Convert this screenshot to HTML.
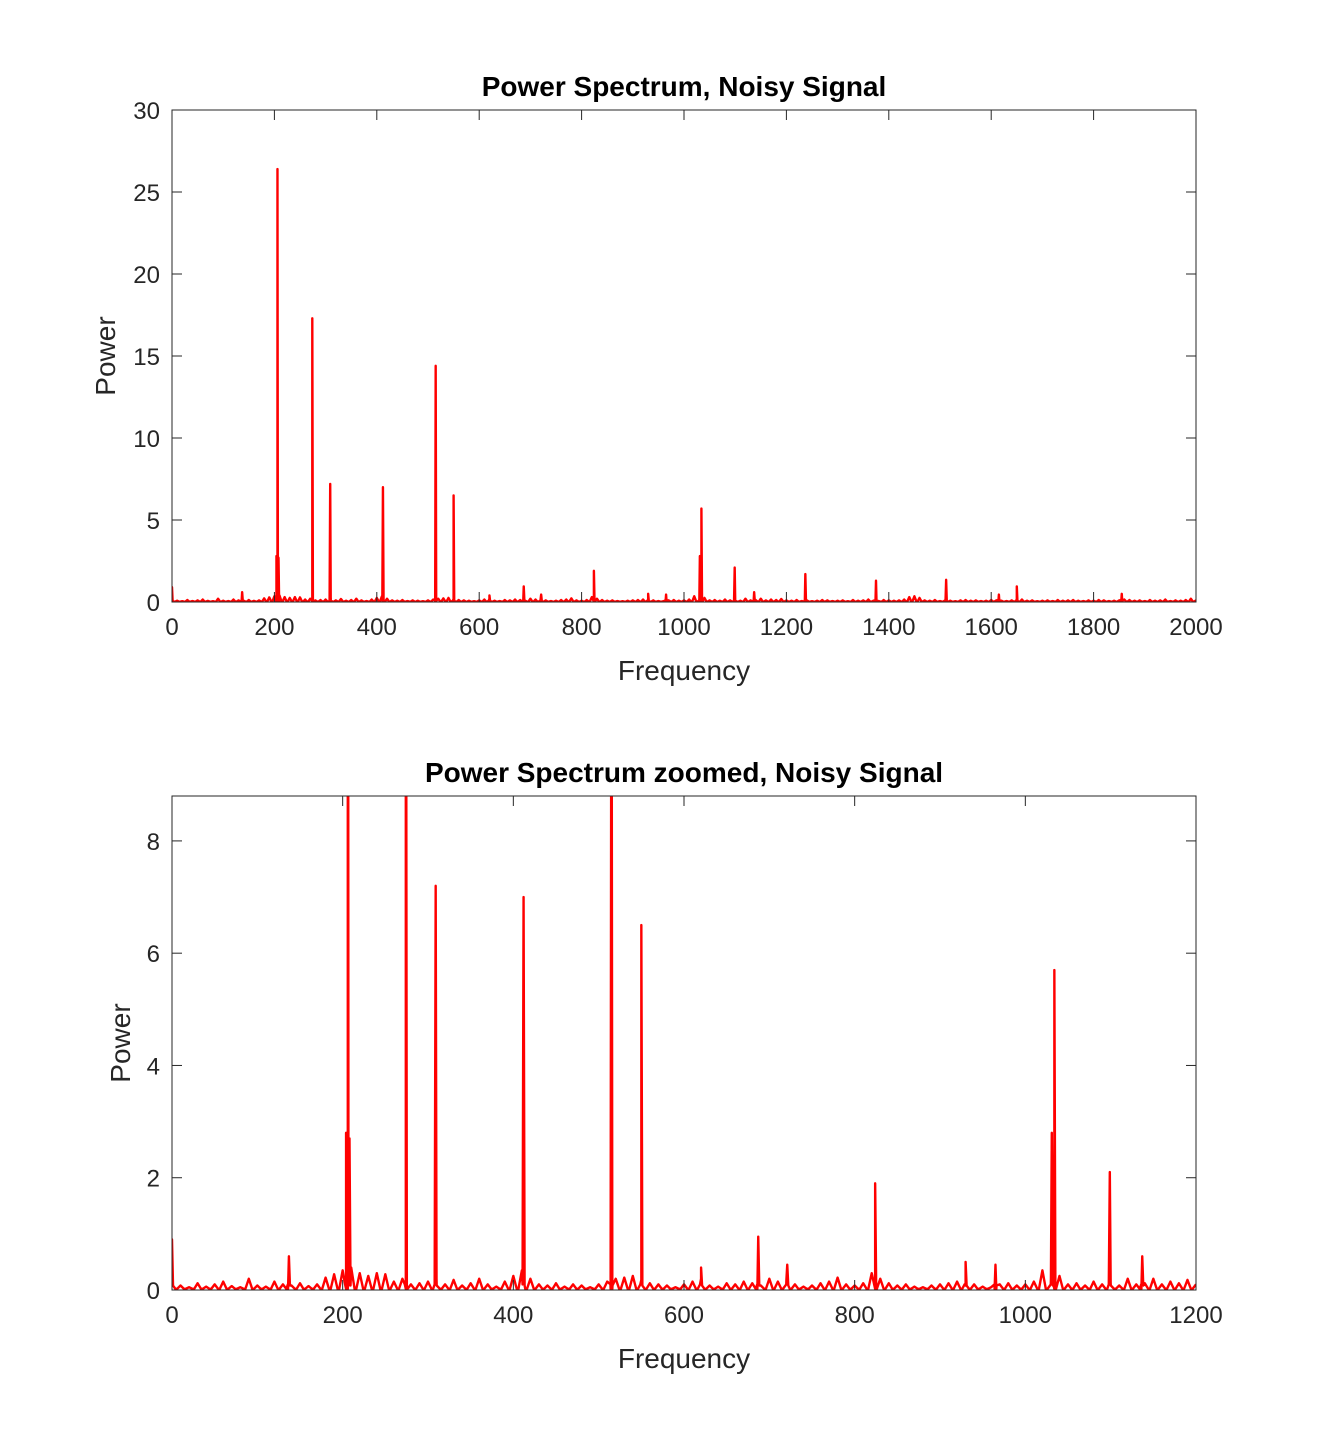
<!DOCTYPE html>
<html><head><meta charset="utf-8"><style>
body{margin:0;background:#fff;}
svg text{font-family:"Liberation Sans",Arial,sans-serif;fill:#262626;}
</style></head><body>
<svg id="fig" width="1323" height="1450" viewBox="0 0 1323 1450" xmlns="http://www.w3.org/2000/svg"></svg>
<script>
// Noise floor samples (every 10 Hz) and their powers
const noiseStep = 10;
const noiseFloor = [0.3,0.08,0.05,0.12,0.06,0.1,0.15,0.07,0.05,0.2,0.08,0.06,0.15,0.1,0.08,0.12,0.07,0.1,0.22,0.28,
0.35,0.4,0.3,0.25,0.3,0.28,0.15,0.2,0.1,0.12,0.15,0.2,0.1,0.18,0.08,0.12,0.2,0.1,0.06,0.15,
0.25,0.35,0.2,0.1,0.08,0.12,0.06,0.1,0.08,0.05,0.1,0.15,0.2,0.22,0.25,0.18,0.12,0.1,0.08,0.05,
0.1,0.15,0.2,0.08,0.06,0.12,0.1,0.15,0.12,0.08,0.2,0.15,0.18,0.1,0.06,0.08,0.12,0.15,0.22,0.1,
0.08,0.12,0.3,0.2,0.12,0.08,0.1,0.06,0.05,0.08,0.1,0.12,0.15,0.08,0.1,0.06,0.05,0.1,0.12,0.08,
0.1,0.15,0.35,0.2,0.25,0.1,0.12,0.08,0.15,0.1,0.12,0.08,0.2,0.1,0.12,0.2,0.1,0.15,0.12,0.18,
0.1,0.08,0.12,0.06,0.1,0.05,0.08,0.12,0.1,0.06,0.08,0.1,0.05,0.12,0.08,0.1,0.15,0.08,0.06,0.12,
0.1,0.08,0.1,0.15,0.3,0.35,0.25,0.1,0.08,0.12,0.06,0.1,0.08,0.05,0.1,0.12,0.08,0.1,0.06,0.08,
0.12,0.1,0.08,0.06,0.1,0.12,0.15,0.08,0.1,0.05,0.08,0.1,0.06,0.12,0.08,0.1,0.12,0.08,0.06,0.1,
0.08,0.12,0.1,0.06,0.08,0.1,0.15,0.12,0.08,0.1,0.06,0.12,0.08,0.1,0.15,0.06,0.1,0.08,0.12,0.2,
0.1,0.08];
const noiseBase = 0.02;
const peakFreqs = [0,137,204,206,208,274,309,412,515,550,620,687,721,824,930,965,1031,1034,1099,1137,1237,1375,1512,1615,1650,1855];
const peakPowers = [0.9,0.6,2.8,26.4,2.7,17.3,7.2,7.0,14.4,6.5,0.4,0.95,0.45,1.9,0.5,0.45,2.8,5.7,2.1,0.6,1.7,1.3,1.35,0.45,0.95,0.5];
const topXTicks = [0,200,400,600,800,1000,1200,1400,1600,1800,2000];
const topYTicks = [0,5,10,15,20,25,30];
const botXTicks = [0,200,400,600,800,1000,1200];
const botYTicks = [0,2,4,6,8];

const NS="http://www.w3.org/2000/svg";
const svg=document.getElementById('fig');
function mk(tag,attrs,parent){const e=document.createElementNS(NS,tag);for(const k in attrs)e.setAttribute(k,attrs[k]);(parent||svg).appendChild(e);return e;}

const pts=[];
noiseFloor.forEach((v,i)=>{const f=i*noiseStep;pts.push([f-4,noiseBase]);pts.push([f,v]);pts.push([f+4,noiseBase]);});
peakFreqs.forEach((f,i)=>{pts.push([f-1.2,0.1]);pts.push([f,peakPowers[i]]);pts.push([f+1.2,0.08]);});
pts.sort((a,b)=>a[0]-b[0]);

function chart(id,box,xmax,ymax,xt,yt,title,ylx){
  const [L,T,R,B]=box;
  const sx=v=>L+(v/xmax)*(R-L), sy=v=>B-(v/ymax)*(B-T);
  const g=mk('g',{});
  
  
  const cp=mk('clipPath',{id:id+'-clip'},g);mk('rect',{x:L,y:T,width:R-L,height:B-T},cp);
  const d=pts.filter(p=>p[0]>=0&&p[0]<=xmax).map((p,i)=>(i?'L':'M')+sx(p[0]).toFixed(2)+','+sy(p[1]).toFixed(2)).join('');
  const line=mk('path',{d:d,fill:'none',stroke:'#ff0000','stroke-width':2.4,'stroke-linejoin':'round','clip-path':'url(#'+id+'-clip)'},g);
  
  
  const frame=mk('rect',{x:L,y:T,width:R-L,height:B-T,fill:'none',stroke:'#262626','stroke-width':1},g);
  
  
  xt.forEach(v=>{const x=sx(v);
    mk('line',{x1:x,x2:x,y1:B,y2:B-10,stroke:'#262626'},g);mk('line',{x1:x,x2:x,y1:T,y2:T+10,stroke:'#262626'},g);
    const t=mk('text',{x:x,y:B+33,'text-anchor':'middle','font-size':24},g);t.textContent=v;
    
    });
  yt.forEach(v=>{const y=sy(v);
    mk('line',{x1:L,x2:L+10,y1:y,y2:y,stroke:'#262626'},g);mk('line',{x1:R,x2:R-10,y1:y,y2:y,stroke:'#262626'},g);
    const t=mk('text',{x:L-12,y:y+9,'text-anchor':'end','font-size':24},g);t.textContent=v;
    
    });
  const ti=mk('text',{x:(L+R)/2,y:T-14,'text-anchor':'middle','font-size':28,'font-weight':'bold',style:'fill:#000'},g);ti.textContent=title;
  
  
  const xl=mk('text',{x:(L+R)/2,y:B+78,'text-anchor':'middle','font-size':28},g);xl.textContent='Frequency';
  
  
  const cy=(T+B)/2;
  const yl=mk('text',{x:ylx,y:cy,'text-anchor':'middle','font-size':28,transform:'rotate(-90 '+ylx+' '+cy+')'},g);yl.textContent='Power';
  
  
}
chart('power-spectrum-chart',[172,110,1196,602],2000,30,topXTicks,topYTicks,'Power Spectrum, Noisy Signal',115);
chart('power-spectrum-zoomed-chart',[172,796,1196,1290],1200,8.8,botXTicks,botYTicks,'Power Spectrum zoomed, Noisy Signal',130);
</script>
</body></html>
